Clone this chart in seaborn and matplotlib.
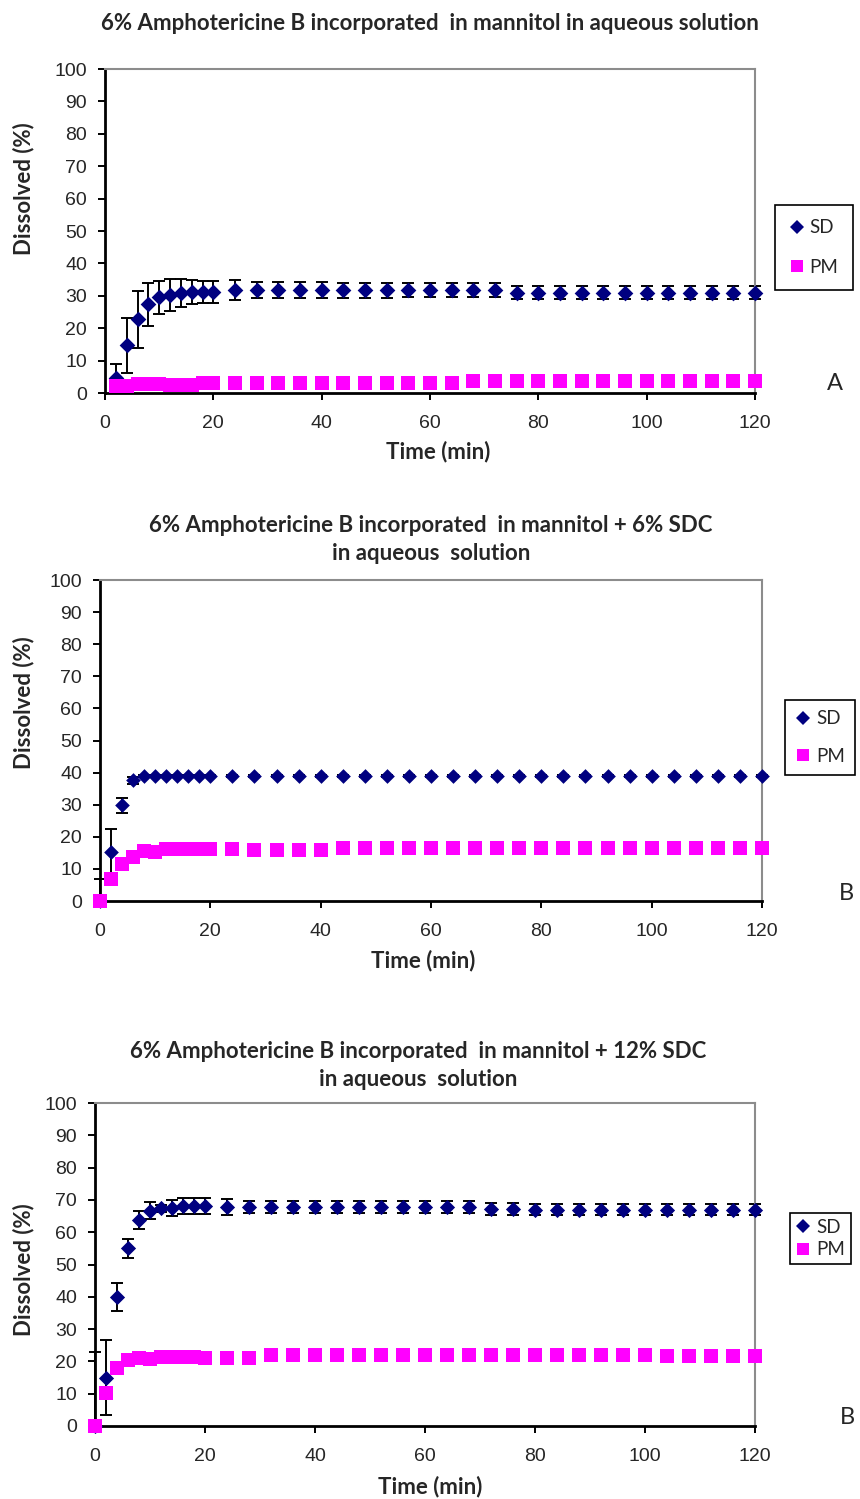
import numpy as np
import pandas as pd
import matplotlib
matplotlib.use("Agg")
import matplotlib.pyplot as plt
import seaborn as sns
from matplotlib.lines import Line2D

# ---------------- data ----------------
times_A = [2, 4, 6, 8, 10, 12, 14, 16, 18, 20, 24, 28, 32, 36, 40, 44, 48, 52, 56, 60,
           64, 68, 72, 76, 80, 84, 88, 92, 96, 100, 104, 108, 112, 116, 120]
sd_A = [4.6, 14.8, 22.8, 27.4, 29.5, 30.3, 30.8, 31.2, 31.2, 31.2, 31.8, 31.7, 31.7, 31.7,
        31.7, 31.7, 31.7, 31.7, 31.7, 31.7, 31.7, 31.7, 31.7, 31.0, 31.0, 31.0, 31.0, 31.0,
        31.0, 31.0, 31.0, 31.0, 31.0, 31.0, 31.0]
sd_A_err = [4.4, 8.5, 8.8, 6.6, 5.1, 5.0, 4.3, 3.8, 3.5, 3.3, 3.0, 2.5, 2.5, 2.5, 2.5, 2.4,
            2.3, 2.3, 2.2, 2.2, 2.2, 2.2, 2.2, 1.9, 1.9, 1.9, 1.9, 1.9, 1.9, 1.9, 1.9, 1.9,
            1.9, 1.9, 1.9]
pm_A = [2.3, 2.3, 2.9, 2.9, 2.9, 2.5, 2.5, 2.5, 3.2, 3.2, 3.2, 3.2, 3.2, 3.2, 3.2, 3.0,
        3.0, 3.0, 3.0, 3.0, 3.0, 3.7, 3.7, 3.7, 3.7, 3.7, 3.7, 3.7, 3.7, 3.7, 3.7, 3.7,
        3.7, 3.7, 3.7]

times_BC = [0, 2, 4, 6, 8, 10, 12, 14, 16, 18, 20, 24, 28, 32, 36, 40, 44, 48, 52, 56, 60,
            64, 68, 72, 76, 80, 84, 88, 92, 96, 100, 104, 108, 112, 116, 120]
sd_B = [0.0, 15.3, 29.8, 37.6, 38.9, 38.9, 38.9, 38.9, 38.9, 38.9, 38.9, 38.9, 38.9, 38.9,
        38.9, 38.9, 38.9, 38.9, 38.9, 38.9, 38.9, 38.9, 38.9, 38.9, 38.9, 38.9, 38.9, 38.9,
        38.9, 38.9, 38.9, 38.9, 38.9, 38.9, 38.9, 38.9]
sd_B_err = [7.0, 7.0, 2.3, 1.0, 0.3, 0.3, 0.3, 0.3, 0.3, 0.3, 0.3, 0.3, 0.3, 0.3, 0.3, 0.3,
            0.3, 0.3, 0.3, 0.3, 0.3, 0.3, 0.3, 0.3, 0.3, 0.3, 0.3, 0.3, 0.3, 0.3, 0.3, 0.3,
            0.3, 0.3, 0.3, 0.3]
pm_B = [0.0, 6.8, 11.5, 13.6, 15.7, 15.4, 16.1, 16.1, 16.1, 16.1, 16.1, 16.1, 15.8, 15.8,
        15.8, 15.8, 16.6, 16.6, 16.6, 16.6, 16.6, 16.6, 16.6, 16.6, 16.6, 16.6, 16.6, 16.6,
        16.6, 16.6, 16.6, 16.6, 16.6, 16.6, 16.6, 16.6]

sd_C = [0.0, 15.0, 40.0, 55.0, 63.8, 66.7, 67.4, 67.4, 68.0, 68.0, 68.0, 67.9, 67.8, 67.8,
        67.8, 67.8, 67.8, 67.8, 67.8, 67.8, 67.8, 67.8, 67.8, 67.2, 67.2, 67.0, 67.0, 67.0,
        67.0, 67.0, 67.0, 67.0, 67.0, 67.0, 67.0, 67.0]
sd_C_err = [23.0, 11.7, 4.4, 3.0, 2.8, 2.7, 1.0, 2.5, 2.5, 2.5, 2.5, 2.5, 2.0, 2.0, 2.0,
            2.0, 2.0, 2.0, 2.0, 2.0, 2.0, 2.0, 2.0, 1.8, 1.8, 1.8, 1.8, 1.8, 1.8, 1.8, 1.8,
            1.8, 1.8, 1.8, 1.8, 1.8]
pm_C = [0.0, 10.3, 17.9, 20.4, 21.0, 20.7, 21.5, 21.5, 21.5, 21.5, 21.2, 21.2, 21.0, 22.0,
        22.0, 22.0, 22.0, 22.0, 22.0, 22.0, 22.0, 22.0, 22.0, 22.0, 22.0, 22.0, 22.0, 22.0,
        22.0, 22.0, 22.0, 21.6, 21.6, 21.6, 21.6, 21.6]

titles = [
    "6% Amphotericine B incorporated  in mannitol in aqueous solution",
    "6% Amphotericine B incorporated  in mannitol + 6% SDC\nin aqueous  solution",
    "6% Amphotericine B incorporated  in mannitol + 12% SDC\nin aqueous  solution",
]
panel_letters = ["A", "B", "B"]
y_ticks = [0, 10, 20, 30, 40, 50, 60, 70, 80, 90, 100]
x_ticks = [0, 20, 40, 60, 80, 100, 120]

# ---------------- style ----------------
sns.set_style("white")
plt.rcParams["font.family"] = ["Lato", "DejaVu Sans"]

W, H = 860, 1499
fig = plt.figure(figsize=(W / 100, H / 100), dpi=100)

NAVY = "#000080"
MAGENTA = "#FF00FF"


def add_ax(l, t, r, b):
    return fig.add_axes([l / W, 1 - b / H, (r - l) / W, (b - t) / H])


panels = [
    dict(box=(105, 69, 755, 393), t=times_A, sd=sd_A, sde=sd_A_err, pm=pm_A,
         title_x=430, title_y=[24], letter=(835, 383), leg=(775, 205), legsp=1.2,
         legpad=0.75, ylab=(24, 189), xlab=(438, 452), d_s=64, s_s=110),
    dict(box=(100, 580, 762, 901), t=times_BC, sd=sd_B, sde=sd_B_err, pm=pm_B,
         title_x=431, title_y=[526, 554], letter=(846, 893), leg=(785, 700), legsp=1.1,
         legpad=0.55, ylab=(24, 703), xlab=(423, 961), d_s=56, s_s=110),
    dict(box=(95, 1103, 755, 1426), t=times_BC, sd=sd_C, sde=sd_C_err, pm=pm_C,
         title_x=418, title_y=[1051, 1080], letter=(847, 1417), leg=(790, 1213),
         legsp=0.3, legpad=0.3, ylab=(24, 1270), xlab=(430, 1487), d_s=60, s_s=100),
]

for i, p in enumerate(panels):
    l, t, r, b = p["box"]
    ax = add_ax(l, t, r, b)
    df = pd.DataFrame({"time": p["t"], "SD": p["sd"], "err": p["sde"], "PM": p["pm"]})
    lower = np.minimum(df["err"].values, df["SD"].values)
    upper = df["err"].values

    ax.errorbar(df["time"], df["SD"], yerr=[lower, upper], fmt="none", ecolor="black",
                elinewidth=1.4, capsize=4.5, capthick=1.4, zorder=2, clip_on=False)
    sns.scatterplot(data=df, x="time", y="SD", marker="D", s=p["d_s"], color=NAVY,
                    linewidth=0, ax=ax, zorder=3, clip_on=False)
    sns.scatterplot(data=df, x="time", y="PM", marker="s", s=p["s_s"], color=MAGENTA,
                    linewidth=0, ax=ax, zorder=4, clip_on=False)

    ax.set_xlim(0, 120)
    ax.set_ylim(0, 100)
    ax.set_xticks(x_ticks)
    ax.set_yticks(y_ticks)
    ax.set_xticklabels([str(v) for v in x_ticks], fontfamily="Liberation Sans", fontsize=14)
    ax.set_yticklabels([str(v) for v in y_ticks], fontfamily="Liberation Sans", fontsize=14)
    ax.tick_params(axis="both", direction="out", length=5, width=1.4, color="black",
                   bottom=True, left=True)
    ax.tick_params(axis="y", pad=8)
    ax.tick_params(axis="x", pad=11)
    ax.set_xlabel("")
    ax.set_ylabel("")
    for side in ["left", "bottom"]:
        ax.spines[side].set_color("black")
        ax.spines[side].set_linewidth(2.0)
    for side in ["top", "right"]:
        ax.spines[side].set_color("#8c8c8c")
        ax.spines[side].set_linewidth(1.5)

    # axis labels
    fig.text(p["ylab"][0] / W, 1 - p["ylab"][1] / H, "Dissolved (%)", rotation=90,
             ha="center", va="center", fontsize=16, fontweight="bold")
    fig.text(p["xlab"][0] / W, 1 - p["xlab"][1] / H, "Time (min)", ha="center",
             va="center", fontsize=16, fontweight="bold")

    # title
    lines = titles[i].split("\n")
    for ln, yy in zip(lines, p["title_y"]):
        fig.text(p["title_x"] / W, 1 - yy / H, ln, ha="center", va="center", fontsize=16,
                 fontweight="bold")

    # panel letter
    fig.text(p["letter"][0] / W, 1 - p["letter"][1] / H, panel_letters[i], ha="center",
             va="center", fontsize=17)

    # legend
    handles = [
        Line2D([0], [0], marker="D", color="none", markerfacecolor=NAVY,
               markeredgewidth=0, markersize=7),
        Line2D([0], [0], marker="s", color="none", markerfacecolor=MAGENTA,
               markeredgewidth=0, markersize=9),
    ]
    leg = fig.legend(handles, ["SD", "PM"], loc="upper left",
                     bbox_to_anchor=(p["leg"][0] / W, 1 - p["leg"][1] / H),
                     frameon=True, fancybox=False, framealpha=1, edgecolor="black",
                     fontsize=13.5, handlelength=0.8, handletextpad=0.3,
                     labelspacing=p["legsp"], borderpad=p["legpad"], borderaxespad=0)
    leg.get_frame().set_linewidth(1.2)

fig.savefig("out.png", dpi=100, facecolor="white")
